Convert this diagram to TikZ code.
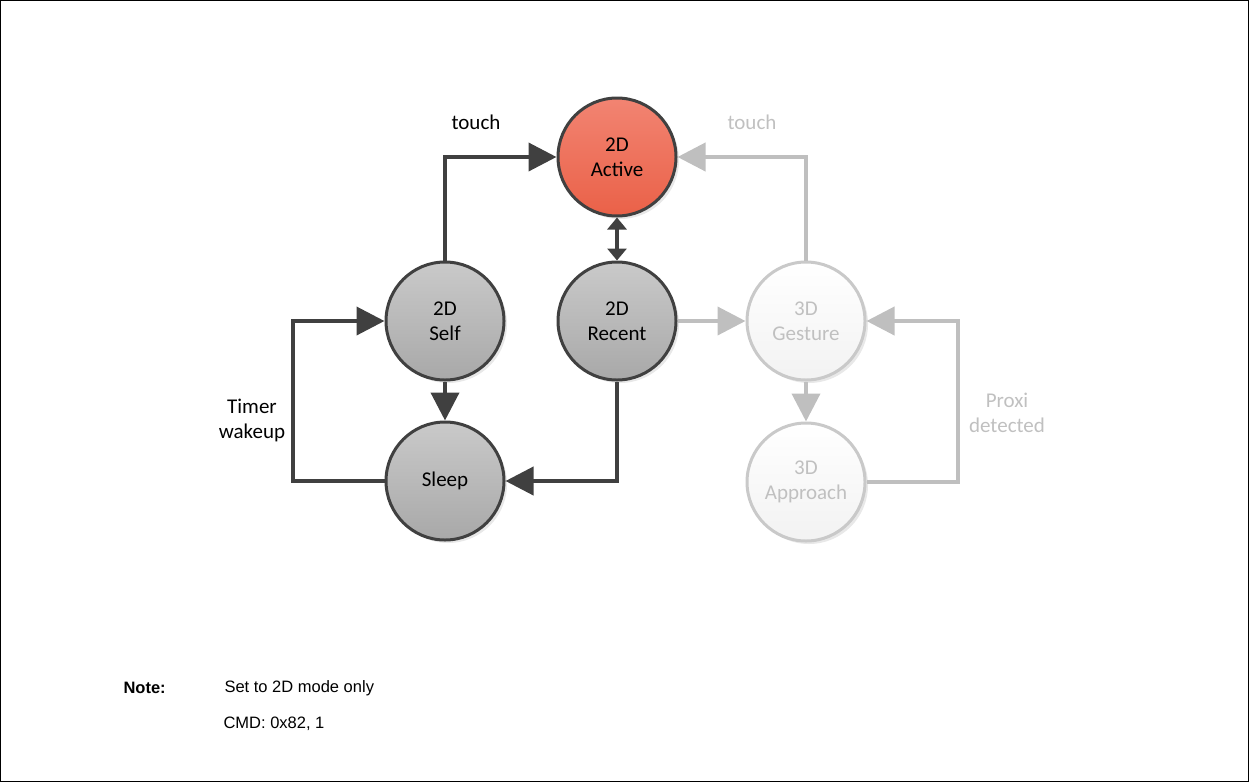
\documentclass[tikz,border=0pt]{standalone}
\usepackage{fontspec}
\setmainfont{Carlito}
\newfontfamily\arialfont{Liberation Sans}
\usetikzlibrary{arrows.meta,shadows}
\definecolor{darkline}{HTML}{404040}
\definecolor{lightline}{HTML}{BFBFBF}
\definecolor{lighttext}{HTML}{C0C0C0}
\begin{document}
\begin{tikzpicture}[x=1pt,y=-1pt,
  state/.style={circle, minimum size=118pt, inner sep=0pt, line width=3pt, align=center,
    font=\fontsize{21}{25}\selectfont,
    drop shadow={opacity=0.18, shadow xshift=3pt, shadow yshift=-3pt}},
  darkstate/.style={state, draw=darkline, top color=gray!42, bottom color=gray!68},
  redstate/.style={state, draw=darkline, top color={rgb,255:red,242;green,132;blue,114}, bottom color={rgb,255:red,234;green,97;blue,72}},
  lightstate/.style={state, draw=lightline!85, top color=white, bottom color=gray!10, text=lighttext},
  darkarrow/.style={draw=darkline, line width=4pt, -{Triangle[length=28pt,width=28pt]}},
  lightarrow/.style={draw=lightline, line width=4pt, -{Triangle[length=28pt,width=28pt]}},
  dblarrow/.style={draw=darkline, line width=4pt, {Triangle[length=12pt,width=19pt]}-{Triangle[length=12pt,width=19pt]}},
  lbl/.style={font=\fontsize{21}{25}\selectfont, align=center},
  notefont/.style={font=\arialfont\fontsize{16.5}{20}\selectfont, anchor=west}
]
\useasboundingbox (0,0) rectangle (1249,782);
\draw[line width=1pt] (0.5,0.5) rectangle (1248.5,781.5);

\node[redstate]   (active)   at (617,157) {2D\\Active};
\node[darkstate]  (self)     at (445,321) {2D\\Self};
\node[darkstate]  (recent)   at (617,321) {2D\\Recent};
\node[lightstate] (gesture)  at (806,321) {3D\\Gesture};
\node[darkstate]  (sleep)    at (445,481) {Sleep};
\node[lightstate] (approach) at (806,482) {3D\\Approach};

\coordinate (tw) at (293,400);
\coordinate (px) at (958,400);

\draw[darkarrow] (self.north) |- (active.west);
\draw[lightarrow] (gesture.north) |- (active.east);
\draw[dblarrow] (active.south) -- (recent.north);
\draw[lightarrow] (recent.east) -- (gesture.west);
\draw[darkarrow] (self.south) -- (sleep.north);
\draw[darkarrow] (recent.south) |- (sleep.east);
\draw[darkarrow] (sleep.west) -- (sleep.west -| tw) |- (self.west);
\draw[lightarrow] (gesture.south) -- (approach.north);
\draw[lightarrow] (approach.east) -- (approach.east -| px) |- (gesture.east);

\node[lbl] (ltouch) at (476,122) {touch};
\node[lbl, text=lighttext] (rtouch) at (752,122) {touch};
\node[lbl] (ltimer) at (252,420) {Timer\\wakeup};
\node[lbl, text=lighttext] (lproxi) at (1007,413) {Proxi\\detected};

\node[notefont, font=\arialfont\bfseries\fontsize{16.5}{20}\selectfont] (note) at (120,688) {Note:};
\node[notefont] (n1) at (221,688) {Set to 2D mode only};
\node[notefont] (n2) at (220,724) {CMD: 0x82, 1};
\end{tikzpicture}
\end{document}
